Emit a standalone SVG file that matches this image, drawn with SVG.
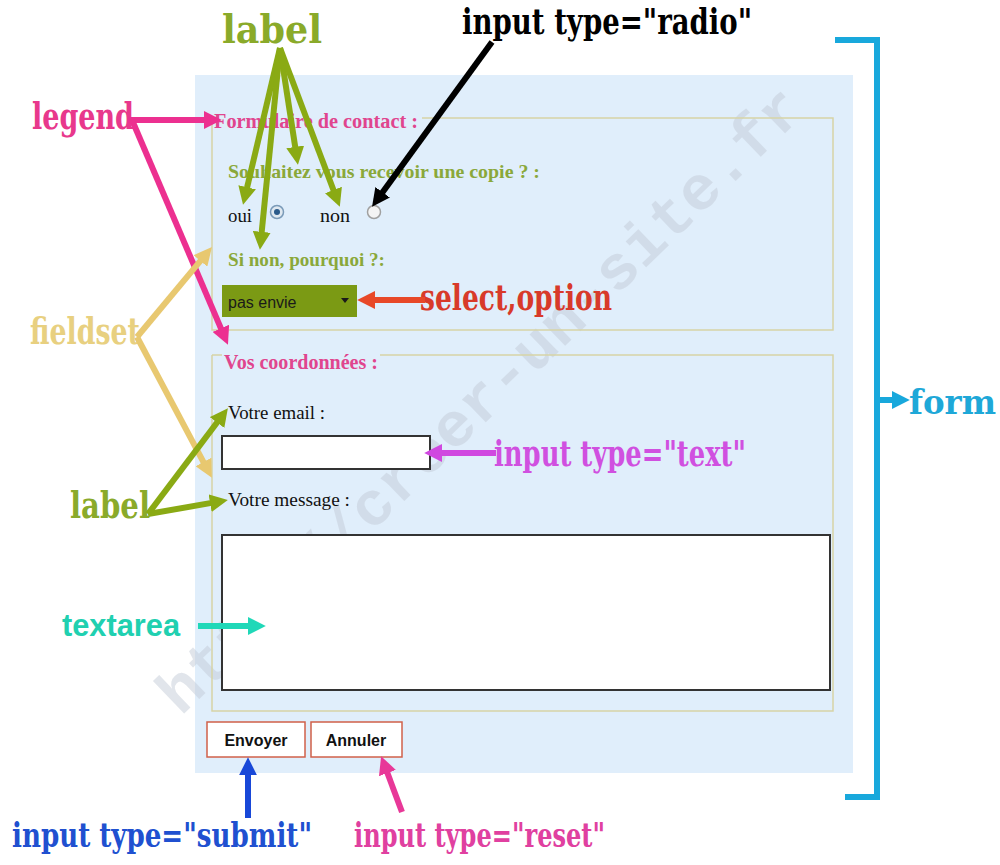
<svg xmlns="http://www.w3.org/2000/svg" width="1000" height="865" viewBox="0 0 1000 865">
<style>
.ann{font-family:"DejaVu Serif","Liberation Serif",serif;font-weight:bold;font-stretch:condensed;}
.fs{fill:none;stroke:#d6d4a6;stroke-width:1.5;}
.lg{font-family:"Liberation Serif","Times New Roman",serif;font-weight:bold;font-size:20px;fill:#e0458e;}
.ol{font-family:"Liberation Serif","Times New Roman",serif;font-weight:bold;font-size:19px;fill:#8aa83a;}
.bk{font-family:"Liberation Serif","Times New Roman",serif;font-size:19px;fill:#111;}
.btn{fill:#fff;stroke:#d0604a;stroke-width:1.5;}
.btt{font-family:"Liberation Sans",Arial,sans-serif;font-weight:bold;font-size:16px;fill:#111;}
.a{fill:none;stroke-width:6;}
</style>
<defs>
<marker id="mOl" viewBox="0 0 10 10" refX="4" refY="5" markerUnits="userSpaceOnUse" markerWidth="18" markerHeight="18" orient="auto"><path d="M0,0 L10,5 L0,10 z" fill="#8aaa14"/></marker>
<marker id="mBk" viewBox="0 0 10 10" refX="4" refY="5" markerUnits="userSpaceOnUse" markerWidth="18" markerHeight="18" orient="auto"><path d="M0,0 L10,5 L0,10 z" fill="#000"/></marker>
<marker id="mPk" viewBox="0 0 10 10" refX="4" refY="5" markerUnits="userSpaceOnUse" markerWidth="18" markerHeight="18" orient="auto"><path d="M0,0 L10,5 L0,10 z" fill="#ec3090"/></marker>
<marker id="mBe" viewBox="0 0 10 10" refX="4" refY="5" markerUnits="userSpaceOnUse" markerWidth="18" markerHeight="18" orient="auto"><path d="M0,0 L10,5 L0,10 z" fill="#e8c870"/></marker>
<marker id="mRd" viewBox="0 0 10 10" refX="4" refY="5" markerUnits="userSpaceOnUse" markerWidth="18" markerHeight="18" orient="auto"><path d="M0,0 L10,5 L0,10 z" fill="#e84828"/></marker>
<marker id="mMg" viewBox="0 0 10 10" refX="4" refY="5" markerUnits="userSpaceOnUse" markerWidth="18" markerHeight="18" orient="auto"><path d="M0,0 L10,5 L0,10 z" fill="#d048e0"/></marker>
<marker id="mCy" viewBox="0 0 10 10" refX="4" refY="5" markerUnits="userSpaceOnUse" markerWidth="18" markerHeight="18" orient="auto"><path d="M0,0 L10,5 L0,10 z" fill="#18a8dc"/></marker>
<marker id="mTl" viewBox="0 0 10 10" refX="4" refY="5" markerUnits="userSpaceOnUse" markerWidth="18" markerHeight="18" orient="auto"><path d="M0,0 L10,5 L0,10 z" fill="#20d8b8"/></marker>
<marker id="mBl" viewBox="0 0 10 10" refX="4" refY="5" markerUnits="userSpaceOnUse" markerWidth="18" markerHeight="18" orient="auto"><path d="M0,0 L10,5 L0,10 z" fill="#1848d8"/></marker>
<marker id="mRs" viewBox="0 0 10 10" refX="4" refY="5" markerUnits="userSpaceOnUse" markerWidth="18" markerHeight="18" orient="auto"><path d="M0,0 L10,5 L0,10 z" fill="#e83898"/></marker>
</defs>
<rect width="1000" height="865" fill="#fff"/>

<g id="form-panel">
<rect x="195" y="75" width="658" height="698" fill="#e0eefb"/>
</g>

<g id="watermark">
<text x="480" y="420" transform="rotate(-44 480 400)" text-anchor="middle" font-family="Liberation Mono,monospace" font-weight="bold" font-size="62" fill="#c4ccd8" opacity="0.5" textLength="870" lengthAdjust="spacingAndGlyphs">http://creer-un-site.fr</text>
</g>

<g id="fieldset1">
<path class="fs" d="M212,118 H214 M422,118 H833 V330 H212 V118"/>
<text class="lg" x="214" y="128" textLength="204" lengthAdjust="spacingAndGlyphs">Formulaire de contact :</text>
<text class="ol" x="228" y="178" textLength="312" lengthAdjust="spacingAndGlyphs">Souhaitez vous recevoir une copie ? :</text>
<text class="bk" x="228" y="222" textLength="24" lengthAdjust="spacingAndGlyphs">oui</text>
<circle cx="277" cy="212" r="6.5" fill="#dfe8f0" stroke="#7a9ab8" stroke-width="1.5"/>
<circle cx="277" cy="212" r="3" fill="#2a5a8a"/>
<text class="bk" x="320" y="222" textLength="30" lengthAdjust="spacingAndGlyphs">non</text>
<circle cx="374" cy="212" r="6.5" fill="#f4f4f4" stroke="#a0a0a0" stroke-width="1.5"/>
<text class="ol" x="228" y="266" textLength="157" lengthAdjust="spacingAndGlyphs">Si non, pourquoi ?:</text>
<rect x="222" y="285" width="135" height="32" fill="#7b9a14"/>
<text x="228" y="308" font-family="Liberation Sans,sans-serif" font-size="16" fill="#1a1a1a">pas envie</text>
<path d="M341,298 L349,298 L345,303 z" fill="#1a1a1a"/>
</g>

<g id="fieldset2">
<path class="fs" d="M212,355 H222 M380,355 H833 V711 H212 V355"/>
<text class="lg" x="224" y="369" textLength="154" lengthAdjust="spacingAndGlyphs">Vos coordonnées :</text>
<text class="bk" x="228" y="419" textLength="97" lengthAdjust="spacingAndGlyphs">Votre email :</text>
<rect x="222" y="436" width="208" height="33" fill="#fff" stroke="#333" stroke-width="2"/>
<text class="bk" x="228" y="506" textLength="122" lengthAdjust="spacingAndGlyphs">Votre message :</text>
<rect x="222" y="535" width="608" height="155" fill="#fff" stroke="#333" stroke-width="2"/>
</g>

<g id="buttons">
<rect class="btn" x="207" y="722" width="98" height="35"/>
<text class="btt" x="256" y="746" text-anchor="middle">Envoyer</text>
<rect class="btn" x="311" y="722" width="91" height="35"/>
<text class="btt" x="356" y="746" text-anchor="middle">Annuler</text>
</g>

<g id="ann-label-top"><text class="ann" x="222" y="43" font-size="40" fill="#8aaa2a" textLength="100" lengthAdjust="spacingAndGlyphs">label</text></g>
<g id="ann-radio"><text class="ann" x="462" y="34" font-size="35" fill="#000" textLength="290" lengthAdjust="spacingAndGlyphs">input type="radio"</text></g>
<g id="ann-legend"><text class="ann" x="32" y="129" font-size="37" fill="#e8388c" textLength="102" lengthAdjust="spacingAndGlyphs">legend</text></g>
<g id="ann-fieldset"><text class="ann" x="30" y="344" font-size="37" fill="#e8d080" textLength="110" lengthAdjust="spacingAndGlyphs">fieldset</text></g>
<g id="ann-select"><text class="ann" x="420" y="310" font-size="35" fill="#d83a2a" textLength="192" lengthAdjust="spacingAndGlyphs">select,option</text></g>
<g id="ann-label-bottom"><text class="ann" x="70" y="518" font-size="37" fill="#8aaa2a" textLength="80" lengthAdjust="spacingAndGlyphs">label</text></g>
<g id="ann-text"><text class="ann" x="494" y="466" font-size="35" fill="#d050e0" textLength="252" lengthAdjust="spacingAndGlyphs">input type="text"</text></g>
<g id="ann-form"><text class="ann" x="909" y="414" font-size="34" fill="#1ea8d8" textLength="87" lengthAdjust="spacingAndGlyphs">form</text></g>
<g id="ann-textarea"><text x="62" y="636" font-family="Liberation Sans,sans-serif" font-weight="bold" font-size="32" fill="#20d0b0" textLength="118" lengthAdjust="spacingAndGlyphs">textarea</text></g>
<g id="ann-submit"><text class="ann" x="12" y="847" font-size="34" fill="#2050d0" textLength="300" lengthAdjust="spacingAndGlyphs">input type="submit"</text></g>
<g id="ann-reset"><text class="ann" x="354" y="847" font-size="34" fill="#e040a0" textLength="251" lengthAdjust="spacingAndGlyphs">input type="reset"</text></g>

<g id="connectors">
<line class="a" stroke="#8aaa14" x1="280" y1="48" x2="245.5" y2="194.3" marker-end="url(#mOl)"/>
<line class="a" stroke="#8aaa14" x1="280" y1="48" x2="261" y2="239" marker-end="url(#mOl)"/>
<line class="a" stroke="#8aaa14" x1="280" y1="48" x2="296.3" y2="154" marker-end="url(#mOl)"/>
<line class="a" stroke="#8aaa14" x1="280" y1="48" x2="336" y2="196.7" marker-end="url(#mOl)"/>
<line class="a" stroke="#000" x1="492" y1="42" x2="378.4" y2="198.1" marker-end="url(#mBk)"/>
<line class="a" stroke="#ec3090" x1="128" y1="120" x2="211" y2="120" marker-end="url(#mPk)"/>
<line class="a" stroke="#ec3090" x1="132" y1="120" x2="223.7" y2="334.9" marker-end="url(#mPk)"/>
<line class="a" stroke="#e8c870" x1="137" y1="337" x2="205" y2="255.4" marker-end="url(#mBe)"/>
<line class="a" stroke="#e8c870" x1="137" y1="337" x2="206.8" y2="468.3" marker-end="url(#mBe)"/>
<line class="a" stroke="#e84828" x1="425" y1="300" x2="368" y2="300" marker-end="url(#mRd)"/>
<line class="a" stroke="#8aaa14" x1="148" y1="514" x2="221.4" y2="416.8" marker-end="url(#mOl)"/>
<line class="a" stroke="#8aaa14" x1="148" y1="514" x2="217.2" y2="501.9" marker-end="url(#mOl)"/>
<line class="a" stroke="#d048e0" x1="496" y1="453" x2="435" y2="453" marker-end="url(#mMg)"/>
<path class="a" stroke="#18a8dc" d="M835,40 H877 V797 H845"/>
<line class="a" stroke="#18a8dc" x1="877" y1="400" x2="899" y2="400" marker-end="url(#mCy)"/>
<line class="a" stroke="#20d8b8" x1="198" y1="626" x2="255" y2="626" marker-end="url(#mTl)"/>
<line class="a" stroke="#1848d8" x1="248" y1="818" x2="248" y2="768" marker-end="url(#mBl)"/>
<line class="a" stroke="#e83898" x1="402" y1="812" x2="384.9" y2="766.3" marker-end="url(#mRs)"/>
</g>
</svg>
